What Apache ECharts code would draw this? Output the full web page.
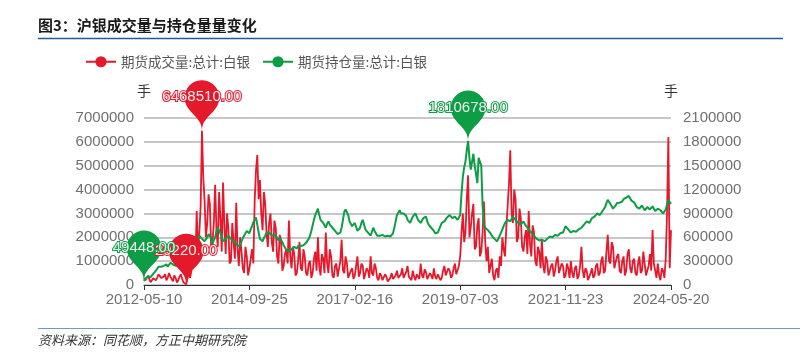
<!DOCTYPE html>
<html>
<head>
<meta charset="utf-8">
<script src="https://cdn.jsdelivr.net/npm/echarts@6/dist/echarts.min.js"></script>
<style>html,body{margin:0;padding:0;background:#fff}#c{width:807px;height:360px}</style>
</head>
<body>
<div id="c"></div>
<script>
// x-axis tick labels (dates shown on the axis)
const tickLabels = ['2012-05-10','2014-09-25','2017-02-16','2019-07-03','2021-11-23','2024-05-20'];
const stepsPerTick = 80;

// 期货成交量:总计:白银 (left axis, 手)
const volume = [
300000,200000,150000,380000,250000,120000,100000,280000,350000,200000,
300000,450000,400000,300000,250000,350000,450000,200000,300000,500000,
350000,250000,150000,400000,300000,100000,200000,350000,450000,250000,
100000,60000,29220,250000,500000,300000,600000,1100000,1500000,900000,
3100000,1400000,2200000,3300000,6468510,4500000,3500000,2000000,2600000,3800000,
3400000,1500000,1800000,2600000,4200000,2300000,1600000,3900000,2800000,1400000,
4300000,2500000,1300000,3000000,2400000,900000,1000000,2600000,1800000,1100000,
3450000,1500000,800000,2000000,1400000,700000,500000,1600000,1200000,400000,
700000,1100000,1500000,900000,3500000,4800000,5450000,3600000,4400000,3000000,
2300000,3900000,3400000,2200000,1600000,2600000,3000000,1800000,1400000,2700000,
2400000,1200000,900000,2100000,1900000,600000,800000,1300000,1500000,900000,
2700000,1200000,700000,1600000,1300000,400000,500000,1000000,1800000,700000,
600000,1500000,1200000,500000,400000,900000,1000000,300000,500000,1100000,
1400000,600000,2000000,800000,400000,1300000,1100000,500000,2200000,900000,
500000,1500000,1200000,400000,300000,800000,900000,350000,400000,1000000,
1900000,600000,500000,1200000,900000,300000,300000,600000,700000,250000,
400000,800000,1200000,350000,500000,900000,800000,250000,300000,700000,
600000,300000,1200000,500000,400000,900000,700000,300000,200000,500000,
400000,200000,150000,450000,350000,150000,100000,300000,500000,250000,
200000,400000,600000,300000,250000,450000,700000,300000,300000,550000,
800000,350000,400000,200000,600000,350000,200000,450000,500000,250000,
900000,400000,300000,650000,550000,250000,200000,500000,400000,250000,
700000,350000,250000,450000,500000,200000,300000,600000,800000,400000,
350000,700000,600000,300000,400000,700000,900000,450000,500000,800000,
1200000,2200000,3000000,1800000,2200000,3600000,4600000,2000000,2400000,3000000,
3400000,1500000,1600000,2500000,2800000,1200000,1400000,2200000,3500000,1800000,
1000000,1600000,500000,800000,1100000,400000,200000,600000,700000,300000,
1200000,800000,2000000,1500000,1200000,2400000,3300000,4200000,5650000,3000000,
2600000,4000000,3600000,1800000,2000000,3200000,2800000,1600000,1400000,2000000,
2300000,1300000,3100000,1700000,1200000,2500000,2200000,1000000,800000,1600000,
1400000,700000,1900000,800000,500000,1200000,1000000,400000,400000,800000,
900000,350000,600000,1000000,1200000,500000,500000,900000,800000,300000,
400000,900000,700000,300000,1000000,500000,300000,700000,800000,250000,
400000,800000,1600000,600000,300000,700000,600000,200000,200000,500000,
700000,300000,400000,800000,900000,400000,500000,1000000,1200000,500000,
600000,1400000,2100000,1000000,900000,1800000,1600000,700000,700000,1200000,
1300000,600000,500000,1000000,1200000,400000,600000,1300000,1500000,700000,
500000,1000000,1100000,500000,400000,900000,1200000,500000,600000,1400000,
900000,400000,400000,800000,1300000,600000,2300000,900000,600000,300000,
900000,400000,200000,700000,600000,300000,1100000,3000000,6200000,700000,
2300000
];

// 期货持仓量:总计:白银 (right axis, 手)
const openInterest = [
49448,80000,100000,110000,90000,100000,120000,140000,150000,180000,
200000,230000,240000,230000,220000,240000,250000,260000,230000,250000,
280000,300000,260000,250000,240000,230000,270000,250000,220000,240000,
250000,230000,200000,210000,220000,250000,280000,330000,400000,460000,
500000,580000,620000,600000,580000,560000,550000,570000,600000,640000,
660000,590000,520000,560000,600000,680000,720000,700000,650000,600000,
550000,560000,580000,600000,620000,600000,580000,570000,550000,530000,
520000,490000,470000,500000,550000,590000,620000,650000,680000,660000,
650000,700000,740000,790000,820000,850000,760000,660000,580000,560000,
550000,590000,620000,660000,680000,660000,650000,620000,600000,630000,
640000,600000,560000,590000,600000,540000,500000,470000,440000,430000,
420000,440000,450000,470000,480000,470000,460000,490000,500000,490000,
480000,500000,520000,530000,550000,580000,620000,680000,750000,820000,
880000,920000,960000,880000,820000,800000,780000,750000,720000,770000,
800000,760000,740000,720000,700000,680000,660000,640000,620000,660000,
720000,820000,920000,950000,970000,880000,800000,770000,740000,760000,
780000,730000,680000,700000,720000,780000,820000,760000,700000,680000,
660000,640000,620000,670000,720000,680000,650000,620000,600000,620000,
640000,630000,620000,610000,600000,620000,630000,610000,600000,650000,
720000,800000,880000,910000,940000,900000,880000,900000,920000,870000,
820000,800000,780000,820000,860000,880000,900000,860000,820000,800000,
780000,810000,840000,850000,860000,800000,760000,740000,720000,700000,
680000,650000,630000,660000,700000,740000,780000,790000,800000,820000,
850000,870000,880000,860000,840000,850000,860000,840000,820000,850000,
880000,1150000,1360000,1480000,1550000,1700000,1810678,1600000,1450000,1550000,
1650000,1500000,1400000,1280000,1600000,1550000,1500000,1000000,750000,720000,
700000,690000,680000,650000,620000,600000,580000,560000,550000,580000,
620000,660000,700000,740000,780000,800000,820000,810000,800000,830000,
860000,840000,820000,800000,780000,770000,760000,780000,800000,770000,
740000,720000,700000,680000,660000,640000,620000,600000,580000,570000,
560000,565000,570000,560000,550000,565000,580000,595000,610000,605000,
600000,615000,630000,625000,620000,635000,650000,655000,660000,700000,
740000,720000,700000,680000,660000,670000,680000,675000,670000,685000,
700000,710000,720000,740000,760000,780000,800000,790000,780000,810000,
840000,850000,860000,880000,900000,890000,880000,905000,930000,955000,
980000,1030000,1070000,1050000,1020000,990000,960000,980000,1000000,1030000,
1050000,1035000,1020000,1050000,1080000,1090000,1100000,1110000,1120000,1090000,
1060000,1050000,1040000,1010000,980000,970000,960000,980000,1000000,970000,
940000,960000,980000,965000,950000,970000,990000,960000,930000,945000,
960000,950000,940000,920000,900000,925000,950000,1010000,1070000,1045000,
1020000
];

const seriesNames = ['期货成交量:总计:白银', '期货持仓量:总计:白银'];
const leftTicks = {min: 0, max: 7000000, interval: 1000000};
const rightTicks = {min: 0, max: 2100000, interval: 300000};

// category dates between the labelled dates
function fmt(d){const p=n=>String(n).padStart(2,'0');return d.getUTCFullYear()+'-'+p(d.getUTCMonth()+1)+'-'+p(d.getUTCDate());}
const categories = [];
for (let s = 0; s < tickLabels.length - 1; s++) {
  const a = Date.parse(tickLabels[s] + 'T00:00:00Z'), b = Date.parse(tickLabels[s+1] + 'T00:00:00Z');
  for (let j = 0; j < stepsPerTick; j++) {
    const t = a + Math.round((b - a) * j / stepsPerTick / 86400000) * 86400000;
    categories.push(j === 0 ? tickLabels[s] : fmt(new Date(t)));
  }
}
categories.push(tickLabels[tickLabels.length - 1]);

const RED = '#e5192c', GREEN = '#0d9d45';
const numFont = 'Liberation Sans';
const cjk = 'Noto Sans CJK SC';
const plain = v => String(v);

const chart = echarts.init(document.getElementById('c'), null, {renderer: 'canvas'});
const pinLabel = {fontSize: 15, fontFamily: numFont, offset: [0, -3], formatter: p => Number(p.value).toFixed(2)};
chart.setOption({
  animation: false,
  backgroundColor: '#fff',
  graphic: [
    {type: 'text', left: 38, top: 18, style: {text: '图3：沪银成交量与持仓量量变化', font: 'bold 15px "Noto Sans CJK SC"', fill: '#1a1a1a'}},
    {type: 'line', shape: {x1: 38, y1: 38.5, x2: 783, y2: 38.5}, style: {stroke: '#1f5c9e', lineWidth: 1.5}},
    {type: 'line', shape: {x1: 38, y1: 328.5, x2: 800, y2: 328.5}, style: {stroke: '#6c9bc9', lineWidth: 1}},
    {type: 'text', left: 38, top: 334, style: {text: '资料来源：同花顺，方正中期研究院', font: 'italic 13px "Noto Sans CJK SC"', fill: '#333'}}
  ],
  legend: {
    left: 80, top: 50, itemWidth: 30, itemHeight: 14, itemGap: 12,
    textStyle: {fontSize: 13.5, color: '#555', fontFamily: cjk},
    data: seriesNames
  },
  grid: {left: 144, right: 136, top: 118, bottom: 75, containLabel: false},
  xAxis: {
    type: 'category', data: categories, boundaryGap: false,
    axisLine: {lineStyle: {color: '#333', width: 1}},
    axisTick: {interval: stepsPerTick - 1, length: 5, lineStyle: {color: '#333'}},
    axisLabel: {interval: stepsPerTick - 1, color: '#707070', fontSize: 15, fontFamily: numFont, margin: 7},
    splitLine: {show: false}
  },
  yAxis: [
    {type: 'value', min: leftTicks.min, max: leftTicks.max, interval: leftTicks.interval,
     name: '手', nameGap: 20, nameTextStyle: {color: '#333', fontSize: 14, fontFamily: cjk},
     axisLine: {show: false}, axisTick: {show: false},
     axisLabel: {color: '#707070', fontSize: 15, fontFamily: numFont, margin: 10, formatter: plain},
     splitLine: {lineStyle: {color: '#b4b4b8', width: 1.5}}},
    {type: 'value', min: rightTicks.min, max: rightTicks.max, interval: rightTicks.interval, position: 'right',
     name: '手', nameGap: 20, nameTextStyle: {color: '#333', fontSize: 14, fontFamily: cjk},
     axisLine: {show: false}, axisTick: {show: false},
     axisLabel: {color: '#707070', fontSize: 15, fontFamily: numFont, margin: 12, formatter: plain},
     splitLine: {show: false}}
  ],
  series: [
    {name: seriesNames[0], type: 'line', yAxisIndex: 0, data: volume, symbol: 'circle', showSymbol: false,
     lineStyle: {color: RED, width: 1.8}, itemStyle: {color: RED},
     markPoint: {symbolSize: 58, label: pinLabel, data: [{type: 'max'}, {type: 'min'}]}},
    {name: seriesNames[1], type: 'line', yAxisIndex: 1, data: openInterest, symbol: 'circle', showSymbol: false,
     lineStyle: {color: GREEN, width: 2}, itemStyle: {color: GREEN},
     markPoint: {symbolSize: 58, label: pinLabel, data: [{type: 'max'}, {type: 'min'}]}}
  ]
});
</script>
</body>
</html>
